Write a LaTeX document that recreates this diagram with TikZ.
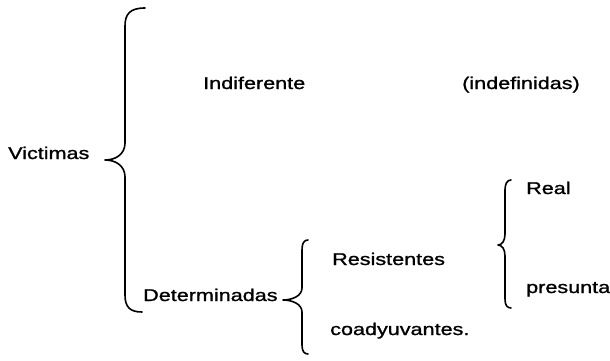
\documentclass[tikz,border=0pt]{standalone}
\usepackage{fontspec}
\setmainfont{Liberation Sans}[FakeStretch=1.27,FakeBold=1.2]
\begin{document}
\begin{tikzpicture}[x=1pt,y=-1pt,
  lbl/.style={anchor=base west,inner sep=0pt,font=\fontsize{17}{20}\selectfont},
  brc/.style={line width=1.6pt,line cap=round,line join=round}]
\useasboundingbox (0,0) rectangle (610,361);
\node[lbl] (vic) at (8,159) {Victimas};
\node[lbl] (ind) at (203,89) {Indiferente};
\node[lbl] (indef) at (462,89) {(indefinidas)};
\node[lbl] (det) at (143,301) {Determinadas};
\node[lbl] (res) at (332,265) {Resistentes};
\node[lbl] (coa) at (330,335) {coadyuvantes.};
\node[lbl] (real) at (526,194) {Real};
\node[lbl] (pre) at (526,293) {presunta};
% big brace
\draw[brc] (145,8) .. controls (130,8) and (125,14) .. (125,26) -- (125,143)
  .. controls (125,154) and (116,160) .. (105,160)
  .. controls (116,160) and (125,166) .. (125,177) -- (125,295)
  .. controls (125,307) and (130,312) .. (142,312);
% middle brace
\draw[brc] (308,240) .. controls (304,240) and (302,243) .. (302,250) -- (302,288)
  .. controls (302,296) and (292,300) .. (283,300)
  .. controls (292,300) and (302,304) .. (302,312) -- (302,345)
  .. controls (302,351) and (304,354) .. (308,354);
% right brace
\draw[brc] (511,180) .. controls (507,180) and (505,184) .. (505,190) -- (505,234)
  .. controls (505,241) and (502,245) .. (498,245)
  .. controls (502,245) and (505,249) .. (505,256) -- (505,299)
  .. controls (505,305) and (507,308) .. (511,308);
\end{tikzpicture}
\end{document}
